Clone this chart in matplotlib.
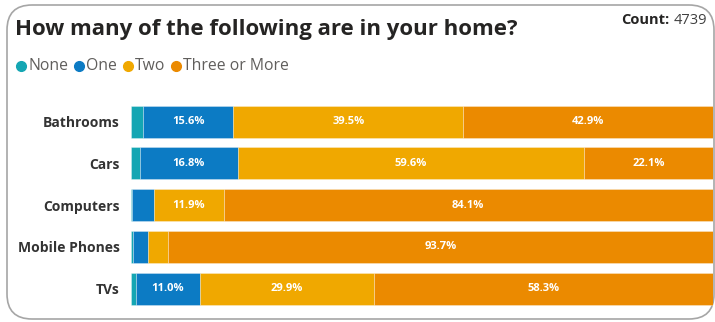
import numpy as np
import matplotlib
matplotlib.use('Agg')
import matplotlib.pyplot as plt
from matplotlib.patches import FancyBboxPatch
from matplotlib.lines import Line2D

plt.rcParams['font.family'] = ['Open Sans', 'DejaVu Sans']

categories = ['Bathrooms', 'Cars', 'Computers', 'Mobile Phones', 'TVs']
series = ['None', 'One', 'Two', 'Three or More']
none_pct = [2.0, 1.5, 0.1, 0.4, 0.8]
one_pct = [15.6, 16.8, 3.9, 2.5, 11.0]
two_pct = [39.5, 59.6, 11.9, 3.4, 29.9]
three_pct = [42.9, 22.1, 84.1, 93.7, 58.3]
count = 4739

colors = ['#14A6B3', '#0C7BC4', '#F0A800', '#EB8A00']

W, H = 715, 322
fig = plt.figure(figsize=(W / 100, H / 100), dpi=100)

# card outline
card = FancyBboxPatch((7 / W, 3 / H), 707 / W, 314 / H,
                      boxstyle='round,pad=0,rounding_size=0.035',
                      transform=fig.transFigure, facecolor='white',
                      edgecolor='#A6A6A6', linewidth=1.2, mutation_aspect=W / H,
                      zorder=-5)
fig.patches.append(card)

fig.text(15 / W, 1 - 30 / H, 'How many of the following are in your home?',
         fontsize=16, fontweight='bold', color='#252423', va='center', ha='left')
fig.text(707 / W, 1 - 20 / H, str(count), fontsize=10.5, color='#404040',
         va='center', ha='right')
fig.text(669 / W, 1 - 20 / H, 'Count:', fontsize=10.5, color='#252423',
         fontweight='bold', va='center', ha='right')

# legend
lx = 21
for name, c in zip(series, colors):
    fig.add_artist(Line2D([lx / W], [1 - 66 / H], marker='o', markersize=7,
                          color=c, linestyle='none', transform=fig.transFigure))
    t = fig.text((lx + 7) / W, 1 - 66 / H, name, fontsize=11.3, color='#605E5C',
                 va='center', ha='left')
    fig.canvas.draw()
    bb = t.get_window_extent()
    lx = bb.x1 + 11

ax = fig.add_axes([131 / W, 1 - 309.5 / H, 582 / W, 208.7 / H])
y = np.arange(len(categories))
left = np.zeros(len(categories))
for vals, c in zip([none_pct, one_pct, two_pct, three_pct], colors):
    vals = np.array(vals)
    ax.barh(y, vals, left=left, height=0.77, color=c,
            edgecolor=(1, 1, 1, 0.35), linewidth=0.6)
    for yi, v, l in zip(y, vals, left):
        if v >= 10:
            ax.text(l + v / 2, yi, f'{v:.1f}%', ha='center', va='center',
                    color='white', fontsize=8, fontweight='bold')
    left += vals

ax.set_xlim(0, 100)
ax.set_ylim(len(categories) - 0.5, -0.5)
ax.set_yticks(y)
ax.set_yticklabels(categories, fontsize=10, fontweight='bold', color='#333333')
ax.set_xticks([])
ax.tick_params(axis='y', length=0, pad=8)
for s in ax.spines.values():
    s.set_visible(False)
ax.patch.set_alpha(0)

fig.savefig('out.png', dpi=100)
